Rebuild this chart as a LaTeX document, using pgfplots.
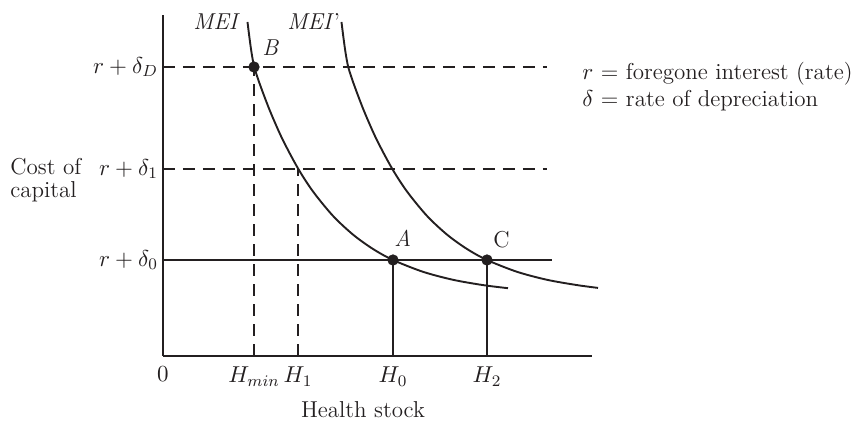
\documentclass[border=0pt]{standalone}
\usepackage{fix-cm}
\usepackage{pgfplots}
\pgfplotsset{compat=1.18}
\definecolor{ink}{HTML}{231F20}

\begin{document}
\fontsize{11.5}{13}\selectfont
\begin{tikzpicture}
\begin{axis}[
    x=0.5pt, y=0.5pt,
    xmin=0, xmax=429, ymin=0, ymax=341,
    axis x line=bottom, axis y line=left,
    axis line style={-, line width=1.1pt, ink},
    clip=false,
    major tick length=0pt,
    xtick={0,91,135,230,324},
    xticklabels={$0$,$H_{min}$,$H_1$,$H_0$,$H_2$},
    ytick={96,187,289},
    yticklabels={$r+\delta_0$,$r+\delta_1$,$r+\delta_D$},
    xticklabel style={yshift=-1.5pt},
    yticklabel style={xshift=1.5pt},
    ticklabel style={text=ink},
]
% bounding box of the whole picture
\path (axis cs:-163,356) rectangle (axis cs:690,-66);

% cost of capital levels
\addplot[ink, line width=1pt, dash pattern=on 6pt off 4pt] coordinates {(0,289) (384,289)};
\addplot[ink, line width=1pt, dash pattern=on 6pt off 4pt] coordinates {(0,187) (384,187)};
\addplot[ink, line width=1pt] coordinates {(0,96) (389,96)};

% drop lines
\addplot[ink, line width=1pt, dash pattern=on 6pt off 4pt] coordinates {(91,0) (91,289)};
\addplot[ink, line width=1pt, dash pattern=on 6pt off 4pt] coordinates {(135,0) (135,187)};
\addplot[ink, line width=0.9pt] coordinates {(230,0) (230,96)};
\addplot[ink, line width=0.9pt] coordinates {(324,0) (324,96)};

% MEI
\addplot[ink, line width=0.95pt, smooth] coordinates {
    (84.5,334) (86.5,318) (88.6,303) (91,290) (94,280) (98,268.6) (104,252.6)
    (110,237.9) (120,215.7) (135,187.6) (150,164.5) (170,140.1) (190,121.4)
    (210,107.0) (230,96.0) (260,84.2) (290,76.2) (320,70.9) (345,67.8)
};
% MEI'
\addplot[ink, line width=0.95pt, smooth] coordinates {
    (178.5,334) (180.5,318) (182.6,303) (185,290) (188,280) (192,268.6) (198,252.6)
    (204,237.9) (214,215.7) (229,187.6) (244,164.5) (264,140.1) (284,121.4)
    (304,107.0) (324,96.0) (354,84.2) (384,76.2) (414,70.9) (435,68.1)
};

% points B, A, C
\addplot[only marks, mark=*, mark size=2.6pt, ink] coordinates {(91,289) (230,96) (324,96)};

\node[anchor=base west, text=ink, inner sep=0] at (axis cs:30,326) {\textit{MEI}};
\node[anchor=base west, text=ink, inner sep=0] at (axis cs:124,326) {\textit{MEI\/}'};
\node[anchor=base west, text=ink, inner sep=0] at (axis cs:99,300) {\textit{B}};
\node[anchor=base west, text=ink, inner sep=0] at (axis cs:231,109) {\textit{A}};
\node[anchor=base west, text=ink, inner sep=0] at (axis cs:330,108) {C};

\node[anchor=base west, text=ink, inner sep=0] at (axis cs:-153,181) {Cost of};
\node[anchor=base west, text=ink, inner sep=0] at (axis cs:-153,158) {capital};
\node[text=ink, inner sep=0] at (axis cs:200,-54) {Health stock};

\node[anchor=base west, text=ink, inner sep=0] at (axis cs:419,276) {$r$ = foregone interest (rate)};
\node[anchor=base west, text=ink, inner sep=0] at (axis cs:419,249) {$\delta$ = rate of depreciation};
\end{axis}
\end{tikzpicture}
\end{document}
